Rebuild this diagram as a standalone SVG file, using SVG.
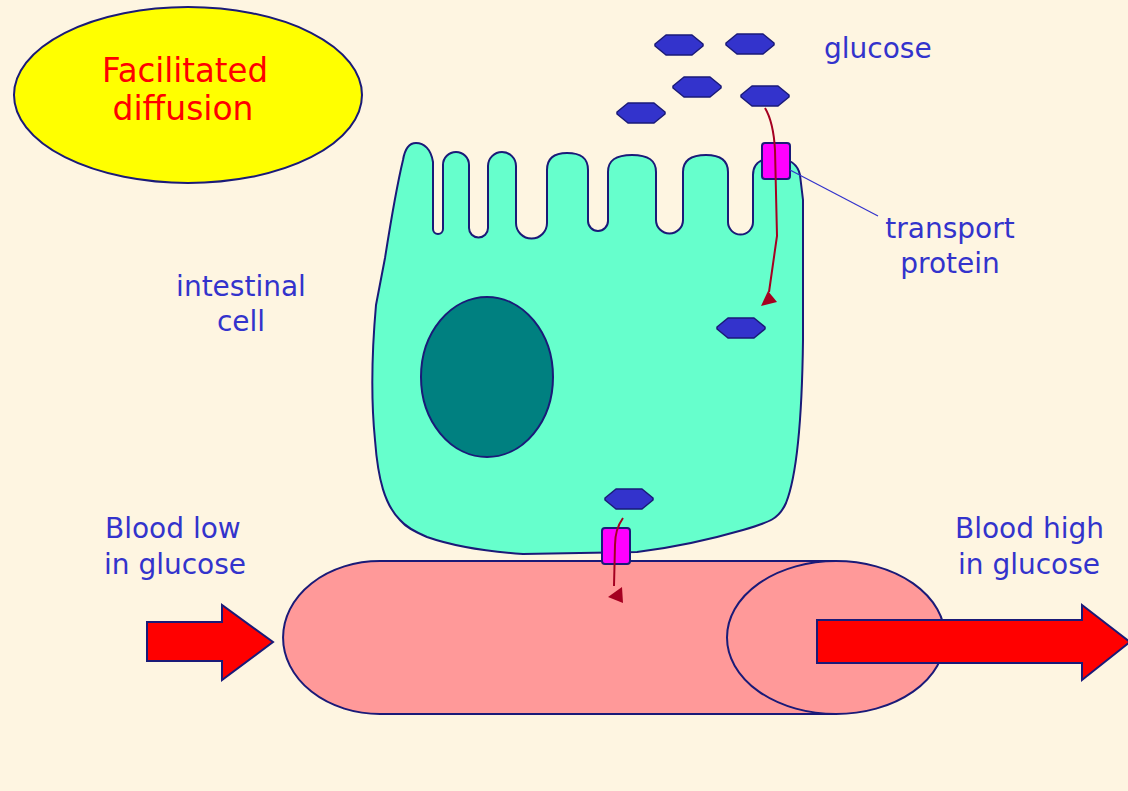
<svg xmlns="http://www.w3.org/2000/svg" width="1128" height="791" viewBox="0 0 1128 791">
  <defs>
    <style>
      .outline { stroke: #1A1A78; stroke-width: 2; stroke-linejoin: round; }
      .label { font-family: "DejaVu Sans", Verdana, sans-serif; font-size: 28px; fill: #3333CC; }
      .title { font-family: "DejaVu Sans", Verdana, sans-serif; font-size: 34px; fill: #FF0000; text-anchor: middle; }
      .glucose { fill: #3333CC; stroke: #1A1A78; stroke-width: 1.5; stroke-linejoin: round; }
      .protein { fill: #FF00FF; stroke: #1A1A78; stroke-width: 2; }
      .flow { fill: none; stroke: #A50021; stroke-width: 2; }
      .flowhead { fill: #A50021; }
      .bigarrow { fill: #FF0000; stroke: #1A1A78; stroke-width: 2; }
    </style>
    <!-- flattened hexagon used for every glucose molecule -->
    <polygon id="hex" points="-24,-1 -13,-10 13,-10 24,-1 24,1 13,10 -13,10 -24,1"/>
  </defs>

  <rect width="1128" height="791" fill="#FEF5E1"/>

  <!-- title bubble -->
  <g id="title">
    <ellipse cx="188" cy="95" rx="174" ry="88" fill="#FFFF00" class="outline"/>
    <text class="title" x="185" y="82" textLength="166" lengthAdjust="spacingAndGlyphs">Facilitated</text>
    <text class="title" x="183" y="120" textLength="141" lengthAdjust="spacingAndGlyphs">diffusion</text>
  </g>

  <!-- blood vessel -->
  <g id="vessel">
    <path d="M836,561 H380 A97,76.5 0 0 0 380,714 H836 Z" fill="#FF9999" class="outline" stroke-width="1.5"/>
    <ellipse cx="836" cy="637.5" rx="109" ry="76.5" fill="#FF9999" class="outline" stroke-width="1.5"/>
  </g>

  <!-- blood flow arrows -->
  <g id="flow-in">
    <polygon class="bigarrow" points="147,622 222,622 222,605 273,642 222,680 222,661 147,661"/>
  </g>
  <g id="flow-out">
    <polygon class="bigarrow" points="817,620 1082,620 1082,605 1130,642 1082,680 1082,663 817,663"/>
  </g>

  <!-- intestinal cell with microvilli -->
  <g id="cell">
    <path fill="#66FFCC" class="outline" d="
      M403,160 C405,148 410,143 416,143 C424,143 431,149 433,162
      L433,229 A5,5 0 0 0 443,229
      L443,165 A13,13 0 0 1 469,165
      L469,228 A9.5,9.5 0 0 0 488,228
      L488,166 A14,14 0 0 1 516,166
      L516,223 A15.5,15.5 0 0 0 547,223
      L547,170 C547,157 555,153 567,153 C580,153 588,157 588,170
      L588,221 A10,10 0 0 0 608,221
      L608,172 C608,160 616,155 632,155 C648,155 656,160 656,172
      L656,220 A13.5,13.5 0 0 0 683,220
      L683,172 C683,160 692,155 706,155 C720,155 728,160 728,172
      L728,222 A12.5,12.5 0 0 0 753,222
      L753,175 C753,163 762,158 775,158 C790,158 798,165 800,175
      L803,200 L803,340
      C802,420 796,478 786,503 C779,519 770,522 743,530
      C705,541 670,548 637,552 L523,554
      C480,551 447,544 427,537 C413,531 406,527 400,520
      C385,505 378,480 375,440 C371,400 372,350 376,305
      L385,258 C391,220 397,185 403,160 Z"/>
    <ellipse cx="487" cy="377" rx="66" ry="80" fill="#008080" class="outline"/>
  </g>

  <!-- transport proteins -->
  <g id="protein-top">
    <rect class="protein" x="762" y="143" width="28" height="36" rx="3"/>
  </g>
  <g id="protein-bottom">
    <rect class="protein" x="602" y="528" width="28" height="36" rx="3"/>
  </g>

  <!-- glucose molecules -->
  <g id="glucose-molecules">
    <use href="#hex" class="glucose" x="679" y="45"/>
    <use href="#hex" class="glucose" x="750" y="44"/>
    <use href="#hex" class="glucose" x="697" y="87"/>
    <use href="#hex" class="glucose" x="765" y="96"/>
    <use href="#hex" class="glucose" x="641" y="113"/>
    <use href="#hex" class="glucose" x="741" y="328"/>
    <use href="#hex" class="glucose" x="629" y="499"/>
  </g>

  <!-- glucose pathways and leader line -->
  <g id="connectors">
    <path class="flow" d="M765,108 C771,118 774,132 775,150 L777,236 L769,292"/>
    <polygon class="flowhead" points="768,291 761,306 777,302"/>
    <path class="flow" d="M623,518 C618,525 615,535 615,545 L614,586"/>
    <polygon class="flowhead" points="622,587 608,597 623,603"/>
    <line x1="790" y1="170" x2="878" y2="216" stroke="#3333CC" stroke-width="1.2"/>
  </g>

  <!-- labels -->
  <g id="labels">
    <text class="label" x="824" y="58">glucose</text>
    <text class="label" x="950" y="238" text-anchor="middle">transport</text>
    <text class="label" x="950" y="273" text-anchor="middle">protein</text>
    <text class="label" x="241" y="296" text-anchor="middle">intestinal</text>
    <text class="label" x="241" y="331" text-anchor="middle">cell</text>
    <text class="label" x="105" y="538">Blood low</text>
    <text class="label" x="104" y="574">in glucose</text>
    <text class="label" x="955" y="538">Blood high</text>
    <text class="label" x="958" y="574">in glucose</text>
  </g>
</svg>
